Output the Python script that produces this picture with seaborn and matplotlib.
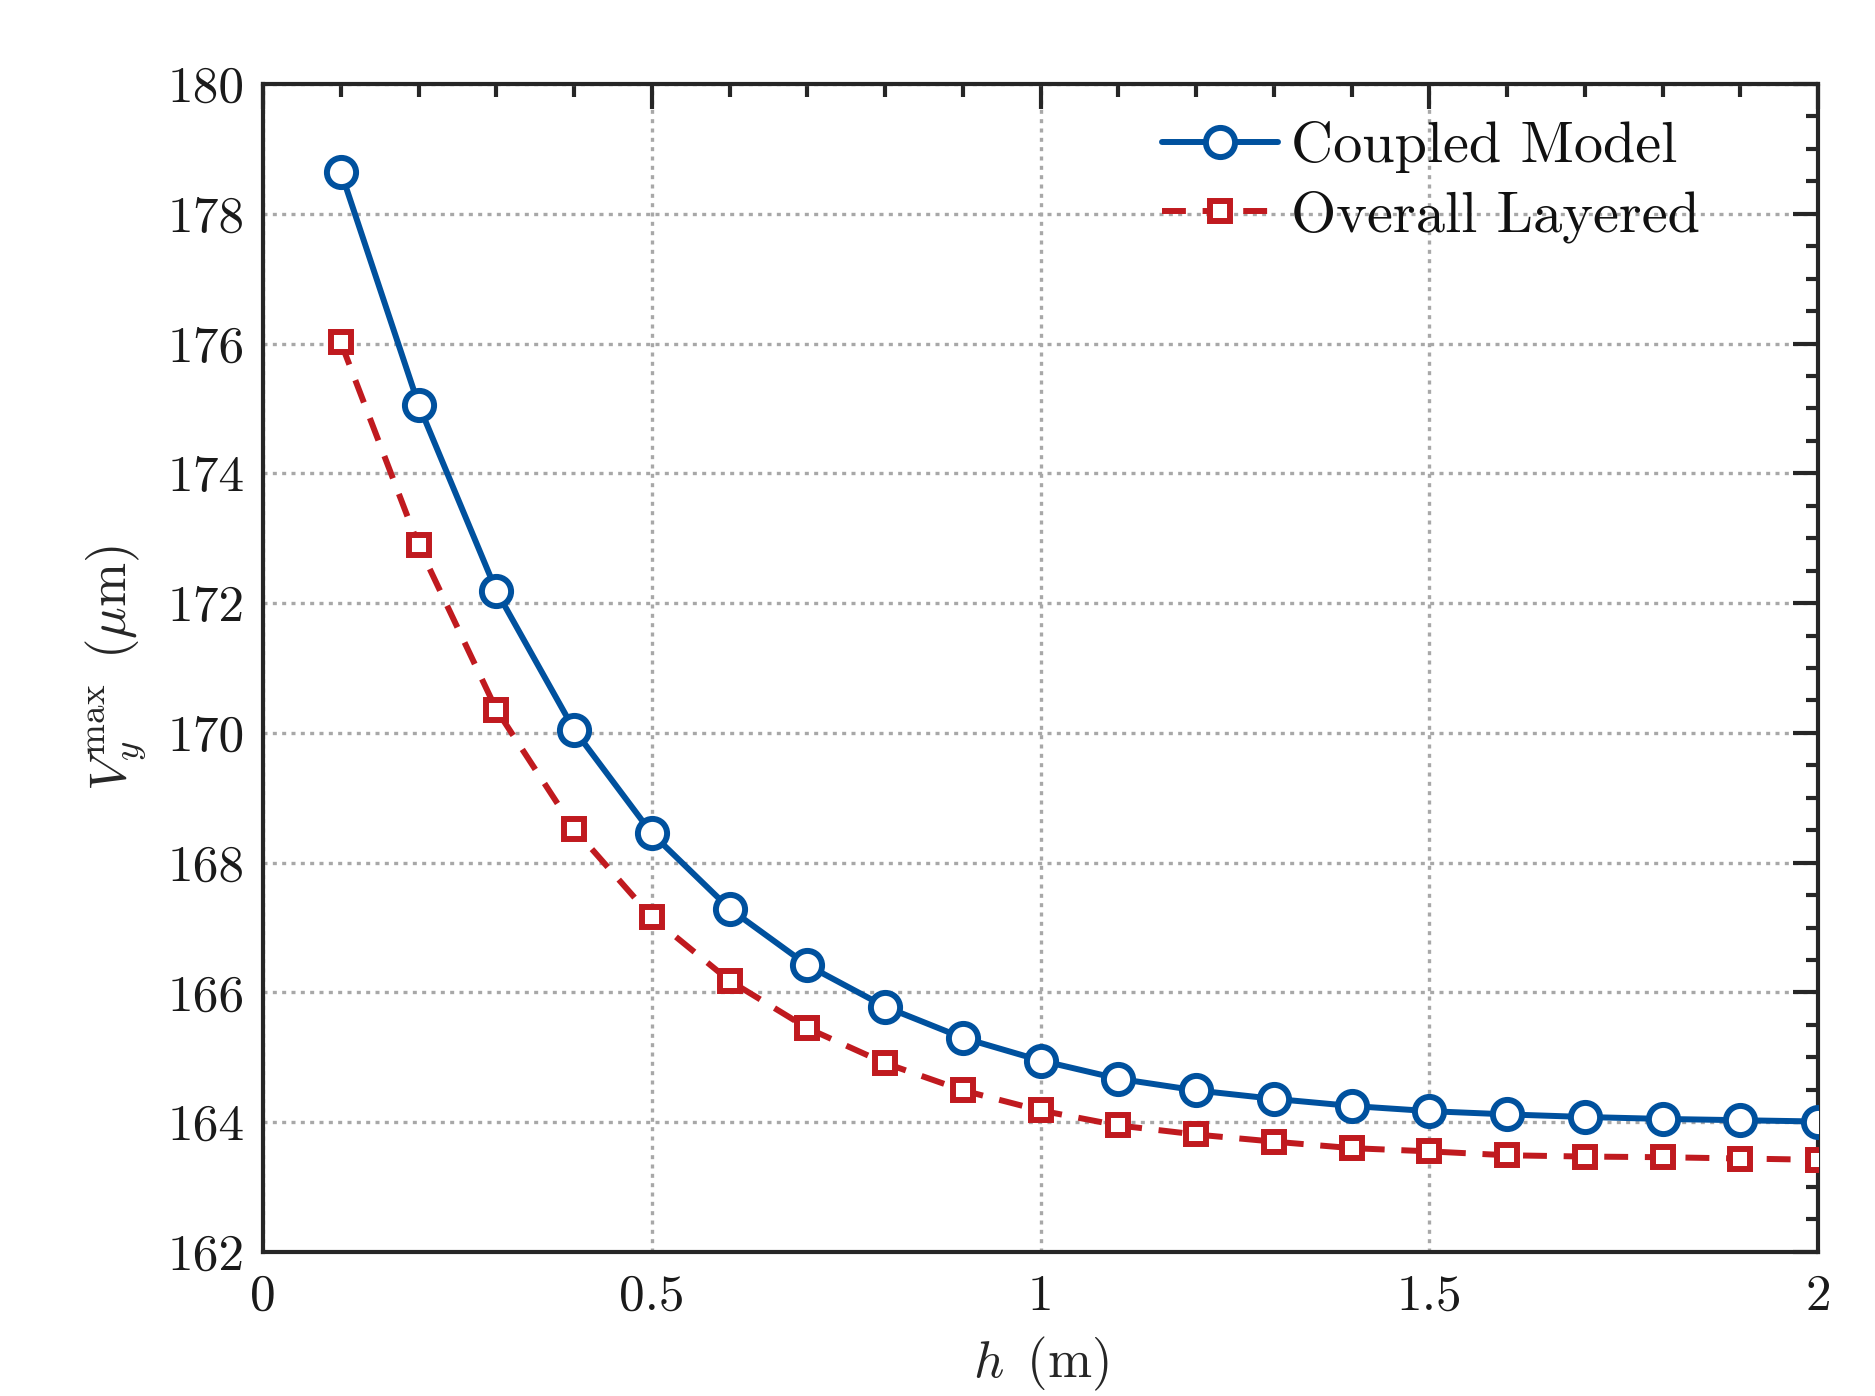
import numpy as np
import pandas as pd
import matplotlib
matplotlib.use("Agg")
import matplotlib.pyplot as plt
import seaborn as sns

h = [0.1, 0.2, 0.3, 0.4, 0.5, 0.6, 0.7, 0.8, 0.9, 1.0,
     1.1, 1.2, 1.3, 1.4, 1.5, 1.6, 1.7, 1.8, 1.9, 2.0]
coupled = [178.65, 175.06, 172.19, 170.05, 168.45, 167.29, 166.42, 165.78, 165.30, 164.95,
           164.67, 164.49, 164.36, 164.25, 164.17, 164.12, 164.08, 164.05, 164.03, 164.01]
layered = [176.02, 172.89, 170.36, 168.52, 167.16, 166.18, 165.45, 164.91, 164.49, 164.18,
           163.95, 163.81, 163.70, 163.60, 163.55, 163.49, 163.47, 163.46, 163.44, 163.42]
series_names = ["Coupled Model", "Overall Layered"]
x_ticks = [0, 0.5, 1, 1.5, 2]
x_ticklabels = ["0", "0.5", "1", "1.5", "2"]
y_ticks = [162, 164, 166, 168, 170, 172, 174, 176, 178, 180]
y_ticklabels = ["162", "164", "166", "168", "170", "172", "174", "176", "178", "180"]

sns.set_style("white")
plt.rcParams["font.family"] = "serif"
plt.rcParams["font.serif"] = ["cmr10", "DejaVu Serif"]
plt.rcParams["mathtext.fontset"] = "cm"
plt.rcParams["axes.unicode_minus"] = False

blue = "#00519E"
red = "#C01A1F"
spine_col = "#262626"

fig = plt.figure(figsize=(18.75, 13.96), dpi=100)
ax = fig.add_axes([0.1403, 0.1032, 0.9696 - 0.1403, 0.9398 - 0.1032])

df = pd.DataFrame({"h": h, "coupled": coupled, "layered": layered})

sns.lineplot(data=df, x="h", y="coupled", ax=ax, color=blue, lw=4.3,
             marker="o", markersize=21, markerfacecolor="white",
             markeredgecolor=blue, markeredgewidth=4.3,
             label=series_names[0], zorder=4)
sns.lineplot(data=df, x="h", y="layered", ax=ax, color=red, lw=4.3,
             marker="s", markersize=14, markerfacecolor="white",
             markeredgecolor=red, markeredgewidth=4.3,
             dashes=(4.0, 2.8), label=series_names[1], zorder=3)

ax.set_xlim(0, 2)
ax.set_ylim(162, 180)
ax.set_xticks(x_ticks, x_ticklabels)
ax.set_yticks(y_ticks, y_ticklabels)
ax.set_xticks(np.arange(0, 2.0001, 0.1), minor=True)
ax.set_yticks(np.arange(162, 180.001, 0.5), minor=True)

ax.grid(True, which="major", color="#a8a8a8", lw=2.4, linestyle=(0, (1.2, 1.6)))
ax.set_axisbelow(True)

for s in ax.spines.values():
    s.set_visible(True)
    s.set_color(spine_col)
    s.set_linewidth(3.0)

ax.tick_params(which="both", direction="in", top=True, right=True,
               color=spine_col, labelcolor="#1a1a1a")
ax.tick_params(which="major", length=18, width=3.0, labelsize=37)
ax.tick_params(which="minor", length=9, width=3.0)
ax.tick_params(axis="y", which="major", pad=13)
ax.tick_params(axis="x", which="major", pad=16)

ax.set_xlabel(r"$h\ \,(\mathrm{m})$", fontsize=38, labelpad=11)
ax.set_ylabel(r"$V_y^{\max}\ \,(\mu\mathrm{m})$", fontsize=38, labelpad=14)

leg = ax.legend(loc="upper left", bbox_to_anchor=(0.578, 0.968), frameon=False,
                fontsize=42, handlelength=2.0, handletextpad=0.22,
                labelspacing=0.3, borderaxespad=0.0, borderpad=0.0)
for t in leg.get_texts():
    t.set_color("#111111")

fig.savefig("out.png", dpi=100, facecolor="white")
